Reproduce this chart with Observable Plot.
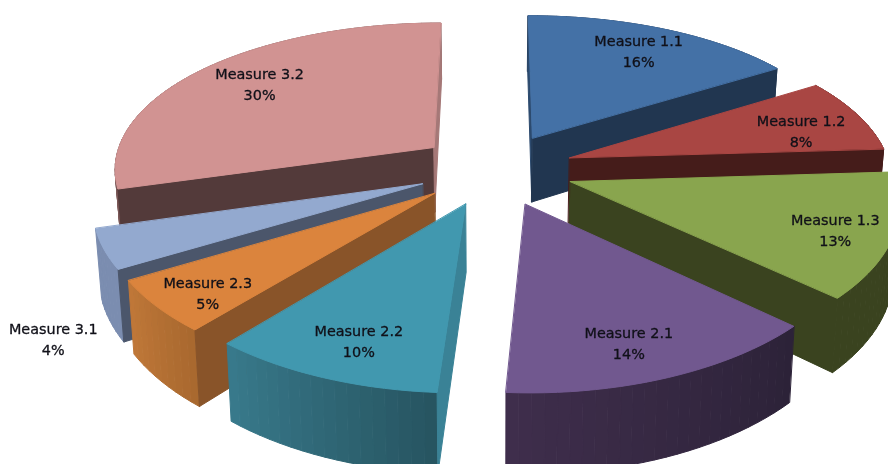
<!DOCTYPE html>
<html>
<head>
<meta charset="utf-8">
<script src="https://cdn.jsdelivr.net/npm/d3@7"></script>
<script src="https://cdn.jsdelivr.net/npm/@observablehq/plot@0.6"></script>
<style>
html,body{margin:0;padding:0;background:#fff}
svg{display:block;filter:blur(0.45px)}
</style>
</head>
<body>
<div id="chart"></div>
<script>
// Data
const measures = ["Measure 1.1","Measure 1.2","Measure 1.3","Measure 2.1","Measure 2.2","Measure 2.3","Measure 3.1","Measure 3.2"];
const shares = [16,8,13,14,10,5.4,4.1,29.5];

// Styles
const topColors  = ["#4471a6","#a94643","#89a54e","#71588f","#4198af","#db843d","#93a9cf","#d19392"];
const rimFrom    = ["#213650","#451c1a","#3a431f","#2c2238","#265460","#a8682f","#7b8db0","#7b5857"];
const rimTo      = ["#213650","#451c1a","#3a431f","#3f2e4c","#397a8c","#c07838","#7b8db0","#7b5857"];
const wallStart  = ["#2c4a6e","#451c1a","#3a431f","#2c2238","#3a8296","#895429","#4b566b","#533a3a"];
const wallEnd    = ["#213650","#451c1a","#3a431f","#3f2e4c","#397a8c","#895429","#4b566b","#a57877"];

// Label placement, relative to slice radius and middle angle
const labelRadius = [0.79,0.78,0.83,0.81,0.80,0.85,1.31,0.77];
const labelTurn   = [0,3,1,2,-1,-2,-18,2];

// Perspective view of the exploded pie
const view = {cx:495, cy:168.5, a:321, b:149, k:0.149, kx:0.13, depth:66, taper:0.985, explode:0.245};
const rad = d => d * Math.PI / 180;
function project(u, v, low) {
  const w = 1 + view.k * v, wx = 1 + view.kx * v;
  return {
    x: view.cx + view.a * u * (low ? view.taper : 1) / wx,
    y: view.cy - view.b * v / w + (low ? view.depth / w : 0)
  };
}

const total = d3.sum(shares);
const starts = d3.cumsum([0, ...shares.slice(0,-1)]).map(s => s / total * 360);
const slices = measures.map((name,i) => {
  const a0 = starts[i], a1 = a0 + shares[i] / total * 360, mid = (a0 + a1) / 2;
  const ox = view.explode * Math.sin(rad(mid)), oy = view.explode * Math.cos(rad(mid));
  const rimPt = a => [ox + Math.sin(rad(a)), oy + Math.cos(rad(a))];
  const la = rad(mid + labelTurn[i]);
  const lp = project(ox + labelRadius[i] * Math.sin(la), oy + labelRadius[i] * Math.cos(la), false);
  return {i, name, a0, a1, mid, ox, oy, rimPt, apexY: project(ox, oy, false).y, label: `${name}\n${Math.round(shares[i])}%`, lx: lp.x, ly: lp.y};
}).sort((p,q) => p.apexY - q.apexY);

// A radial wall shows only when it hangs on the far side of its edge from the slice's own top
function wallShows(s, angle) {
  const a = project(s.ox, s.oy, false);
  const [ru,rv] = s.rimPt(angle);
  const r = project(ru, rv, false), low = project(ru, rv, true);
  const [mu,mv] = s.rimPt(s.mid);
  const m = project(mu, mv, false);
  const side = p => (r.x - a.x) * (p.y - a.y) - (r.y - a.y) * (p.x - a.x);
  return side(m) * side(low) < 0;
}

// Build polygon vertices, back to front
const verts = [];
let pid = 0;
function poly(points, fill) {
  const z = pid++;
  for (const [u,v,low] of points) { const p = project(u,v,low); verts.push({x:p.x, y:p.y, z, fill}); }
}
for (const s of slices) {
  const [su,sv] = s.rimPt(s.a0), [eu,ev] = s.rimPt(s.a1);
  const n = Math.ceil((s.a1 - s.a0) / 2);
  const mix = d3.interpolateRgb(rimFrom[s.i], rimTo[s.i]);
  for (let j = 0; j < n; j++) {
    const [u0,v0] = s.rimPt(s.a0 + (s.a1 - s.a0) * j / n);
    const [u1,v1] = s.rimPt(s.a0 + (s.a1 - s.a0) * (j + 1) / n);
    poly([[u0,v0,false],[u1,v1,false],[u1,v1,true],[u0,v0,true]], d3.color(mix((j + .5) / n)).formatHex());
  }
  if (wallShows(s, s.a0)) poly([[s.ox,s.oy,false],[su,sv,false],[su,sv,true],[s.ox,s.oy,true]], wallStart[s.i]);
  if (wallShows(s, s.a1)) poly([[s.ox,s.oy,false],[eu,ev,false],[eu,ev,true],[s.ox,s.oy,true]], wallEnd[s.i]);
  const top = [[s.ox,s.oy,false]];
  for (let j = 0; j <= n; j++) top.push([...s.rimPt(s.a0 + (s.a1 - s.a0) * j / n), false]);
  poly(top, topColors[s.i]);
}

const chart = Plot.plot({
  width: 888, height: 464,
  margin: 0,
  x: {domain: [0,888], axis: null},
  y: {domain: [464,0], axis: null},
  color: {type: "identity"},
  style: {background: "#fff"},
  marks: [
    Plot.line(verts, {x:"x", y:"y", z:"z", fill:"fill", stroke:"fill", strokeWidth:1, curve:"linear-closed"}),
    Plot.text(slices, {x:"lx", y:"ly", text:"label", fill:"#101018", stroke:"#101018", strokeWidth:0.3,
      fontFamily:"DejaVu Sans", fontSize:14.4, lineHeight:1.46, textAnchor:"middle", lineAnchor:"middle"})
  ]
});
document.getElementById("chart").appendChild(chart);
</script>
</body>
</html>
